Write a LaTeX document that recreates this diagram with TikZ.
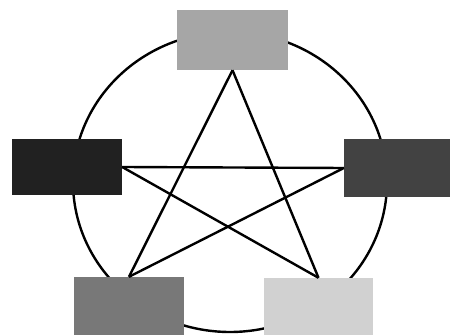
\documentclass[tikz,border=0pt]{standalone}
\begin{document}
\begin{tikzpicture}[x=1pt,y=-1pt,
  box/.style={rectangle, inner sep=0pt, draw=none, minimum width=110pt, minimum height=58pt},
  link/.style={draw=black, line width=2.4pt},
  ring/.style={draw=black, line width=2.4pt}]
\useasboundingbox (0,0) rectangle (450,336);
\coordinate (c) at (230,182);
\draw[ring] (c) ellipse [x radius=157, y radius=150];
\node[box, fill=black!35, minimum width=111pt, minimum height=60pt] (top) at (232.5,40) {};
\node[box, fill=black!87, minimum height=56pt] (left) at (67,167) {};
\node[box, fill=black!74, minimum width=106pt] (right) at (397,168) {};
\node[box, fill=black!53] (bl) at (129,306) {};
\node[box, fill=black!18, minimum width=109pt, minimum height=57pt] (br) at (318.5,306.5) {};
\draw[link] (top.south) -- (bl.north);
\draw[link] (top.south) -- (br.north);
\draw[link] (left.east) -- (right.west);
\draw[link] (left.east) -- (br.north);
\draw[link] (right.west) -- (bl.north);
\end{tikzpicture}
\end{document}
